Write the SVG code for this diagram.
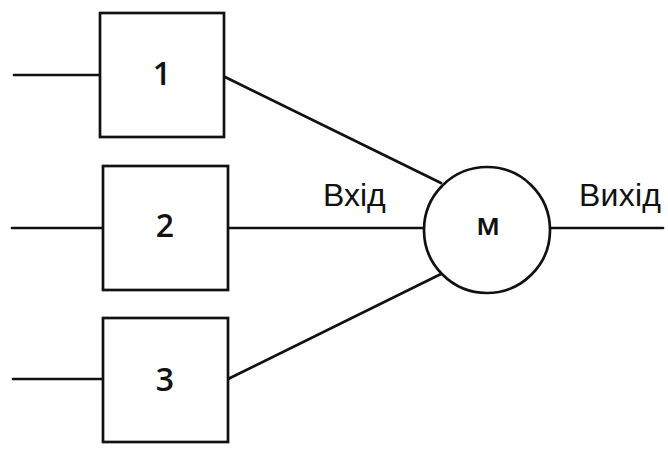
<svg xmlns="http://www.w3.org/2000/svg" width="668" height="450" viewBox="0 0 668 450">
  <style>
    .box { fill: #fff; stroke: #111; stroke-width: 2.7; }
    .wire { fill: none; stroke: #111; stroke-width: 2.7; stroke-linecap: round; }
    .num { font-family: "Open Sans", "DejaVu Sans", sans-serif; font-weight: 600; font-size: 32px; fill: #111; text-anchor: middle; }
    .sym { font-family: "Open Sans", "DejaVu Sans", sans-serif; font-weight: 600; font-size: 30px; fill: #111; text-anchor: middle; }
    .lbl { font-family: "Liberation Sans", Arial, sans-serif; font-size: 32px; fill: #111; }
  </style>
  <rect width="668" height="450" fill="#fff"/>

  <g id="connectors">
    <line class="wire" x1="14" y1="75" x2="100" y2="75"/>
    <line class="wire" x1="12" y1="228" x2="103" y2="228"/>
    <line class="wire" x1="13" y1="379" x2="103" y2="379"/>
    <line class="wire" x1="225" y1="77" x2="441" y2="183"/>
    <line class="wire" x1="228" y1="228" x2="424" y2="228"/>
    <line class="wire" x1="228" y1="379" x2="443" y2="273"/>
    <line class="wire" x1="550" y1="228" x2="663" y2="228"/>
  </g>

  <g id="block-1">
    <rect class="box" x="100" y="13" width="124" height="124"/>
    <text class="num" x="162" y="85">1</text>
  </g>
  <g id="block-2">
    <rect class="box" x="103" y="166" width="125" height="124"/>
    <text class="num" x="165" y="237">2</text>
  </g>
  <g id="block-3">
    <rect class="box" x="103" y="318" width="125" height="124"/>
    <text class="num" x="165" y="391">3</text>
  </g>

  <g id="mixer">
    <circle class="box" cx="487" cy="230" r="63"/>
    <text class="sym" x="488" y="235">м</text>
  </g>

  <g id="labels">
    <text class="lbl" x="323" y="206">Вхід</text>
    <text class="lbl" x="579" y="206" textLength="82">Вихід</text>
  </g>
</svg>
